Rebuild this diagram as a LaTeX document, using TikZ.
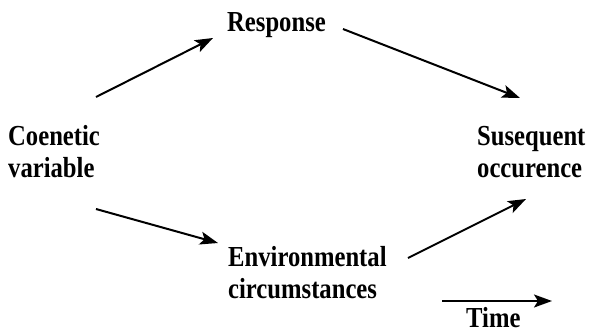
\documentclass[tikz,border=0pt]{standalone}
\usepackage{fontspec}
\setmainfont{Liberation Serif}[FakeStretch=0.85]
\usetikzlibrary{arrows.meta}
\tikzset{
  lab/.style={font=\bfseries\fontsize{29}{32}\selectfont, inner sep=0pt, align=left, anchor=base west},
  flow/.style={draw=black, line width=2pt, -{Stealth[length=18pt, width=13pt, inset=4pt]}}
}
\begin{document}
\begin{tikzpicture}[x=1pt, y=-1pt]
  \useasboundingbox (0,0) rectangle (590,333);

  \node[lab] (coen) at (8,177) {Coenetic\\variable};
  \node[lab] (resp) at (227,31) {Response};
  \node[lab] (subs) at (477,177) {Susequent\\occurence};
  \node[lab] (env) at (228,298) {Environmental\\circumstances};
  \node[lab] (time) at (466,327) {Time};

  % upper path
  \draw[flow] ([shift={(88,-80)}]coen.base west) -- ([shift={(-14,7)}]resp.base west);
  \draw[flow] ([shift={(116,-2)}]resp.base west) -- ([shift={(43,-79)}]subs.base west);
  % lower path
  \draw[flow] ([shift={(88,32)}]coen.base west) -- ([shift={(-10,-55)}]env.base west);
  \draw[flow] ([shift={(180,-40)}]env.base west) -- ([shift={(49,22)}]subs.base west);

  % time axis
  \coordinate (tend) at ([shift={(86,-26)}]time.base west);
  \draw[flow] ([shift={(-24,-26)}]time.base west) -- (tend);
\end{tikzpicture}
\end{document}
